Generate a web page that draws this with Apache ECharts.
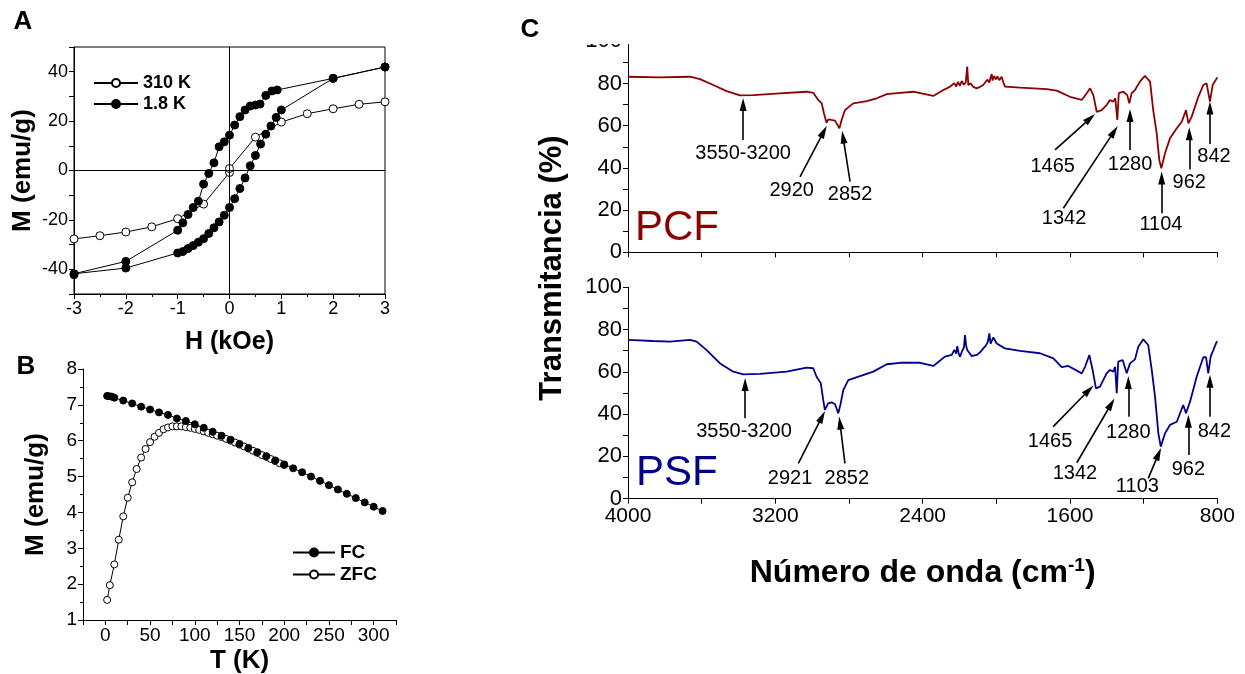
<!DOCTYPE html>
<html><head><meta charset="utf-8">
<script src="https://cdn.jsdelivr.net/npm/echarts@6/dist/echarts.min.js"></script>
<style>html,body{margin:0;padding:0;background:#fff}#c{width:1245px;height:674px}</style>
</head><body><div id="c"></div><script>
const F = "'Liberation Sans', Arial, Helvetica, sans-serif";

// ---- Panel A: hysteresis loops (H in kOe, M in emu/g)
const loop310K = [[-3,-27.7],[-2.5,-26.4],[-2,-24.9],[-1.5,-22.8],[-1,-19.5],[-0.5,-13.6],[0,-0.8],[0,0.8],[0.5,13.5],[1,19.6],[1.5,23],[2,25],[2.5,26.8],[3,27.8]];
const loop1p8K = [[3,41.9],[2,37.3],[0.92,32.6],[0.82,32.2],[0.7,30.4],[0.59,26.9],[0.5,26.5],[0.4,26.1],[0.3,24.5],[0.2,21.8],[0.1,18.4],[0,14.3],[-0.1,11.6],[-0.2,9.6],[-0.3,3.1],[-0.4,-1.2],[-0.5,-5.5],[-0.6,-12.4],[-0.7,-15],[-0.8,-17.8],[-0.9,-21.2],[-1,-24.2],[-2,-36.8],[-3,-41.8],
  [-3,-42.2],[-2,-39.5],[-1,-33.4],[-0.9,-32.8],[-0.8,-31.6],[-0.7,-30.4],[-0.6,-29],[-0.5,-27.6],[-0.4,-25.5],[-0.3,-23.2],[-0.2,-20.8],[-0.1,-18.1],[0,-15],[0.1,-11.4],[0.2,-7.3],[0.3,-3],[0.4,1.9],[0.5,6.1],[0.6,10.7],[0.7,14.7],[0.8,18],[0.9,21.5],[1,24.5],[2,37.3],[3,41.9]];

// ---- Panel B: FC / ZFC
const fcT = [2,4,7,10,20,30,40,50,60,70,80,90,100,110,120,130,140,150,160,170,180,190,200,210,220,230,240,250,260,270,280,290,300,310];
const fcM = [7.25,7.24,7.23,7.20,7.12,7.04,6.95,6.87,6.79,6.72,6.62,6.55,6.46,6.36,6.25,6.14,6.03,5.91,5.80,5.68,5.57,5.45,5.34,5.23,5.12,5.00,4.88,4.76,4.64,4.52,4.40,4.28,4.16,4.04];
const zfcT = [2,5,10,15,20,25,30,35,40,45,50,55,60,65,70,75,80,85,90,95,100,105,110,115,120,125,130,135,140,145,150,155,160,165,170,175,180,185,190,195,200];
const zfcM = [1.56,1.97,2.55,3.24,3.89,4.41,4.84,5.21,5.53,5.77,5.96,6.11,6.22,6.32,6.37,6.40,6.40,6.40,6.38,6.36,6.33,6.30,6.26,6.22,6.18,6.14,6.10,6.05,6.00,5.95,5.89,5.84,5.78,5.72,5.66,5.60,5.55,5.49,5.43,5.37,5.32];

// ---- Panel C: FTIR spectra [wavenumber, transmittance %]
const pcf = [[4000,83.2],[3826,82.9],[3663,83.2],[3609,82.1],[3537,79.3],[3464,76.4],[3392,74.4],[3320,74.5],[3175,75.3],[3030,76.1],[2994,75.6],[2967,72.2],[2948,70.6],[2936,65.9],[2922,61.4],[2912,63],[2903,63.5],[2876,62.4],[2852,58.8],[2840,62.7],[2822,67.4],[2777,70.6],[2704,71.7],[2649,73],[2595,75],[2523,75.6],[2451,76.1],[2342,74.1],[2288,76.9],[2269,77.7],[2250,78.6],[2240,77.8],[2228,80.2],[2218,78.6],[2208,80.8],[2198,78.9],[2188,81.2],[2176,79.4],[2166,80.6],[2158,88],[2152,79.2],[2140,80.1],[2125,78.4],[2106,77.7],[2085,78.6],[2071,79.3],[2060,80.6],[2048,81.8],[2038,80.5],[2030,83.2],[2025,84.5],[2020,81.4],[2012,83.6],[2003,81.9],[1994,83.4],[1984,81.6],[1971,83.2],[1962,80.6],[1953,78.5],[1910,78.3],[1871,78],[1726,77.3],[1672,76.6],[1600,73.7],[1536,72.2],[1509,75.4],[1491,77.7],[1473,74.5],[1455,66.6],[1428,67.4],[1401,69.8],[1383,72.2],[1365,71.4],[1354,73],[1343,62.7],[1335,75.4],[1310,76.1],[1289,74.5],[1278,70.6],[1265,75.4],[1247,76.9],[1238,76.6],[1220,80.9],[1193,83.6],[1165,80.9],[1148,67.4],[1129,56.4],[1115,43.7],[1104,39.8],[1084,46.9],[1057,54],[1020,58.8],[993,61.9],[970,67.4],[957,61.1],[939,64.3],[903,73.7],[876,79.3],[858,80.1],[840,71.4],[825,79.3],[800,82.9]];
const psf = [[4000,75.1],[3866,74.6],[3772,74.3],[3663,75.1],[3627,74.3],[3573,70.3],[3500,64],[3428,60.1],[3374,58.8],[3283,59],[3139,60.1],[3030,62],[2994,61.7],[2976,57.7],[2953,54.6],[2940,46.7],[2931,42],[2913,45.1],[2894,45.6],[2876,44.7],[2858,40.4],[2845,45.1],[2831,51.4],[2804,56.1],[2740,58],[2668,60.1],[2595,63.6],[2523,64.3],[2414,64.3],[2342,62.8],[2279,67.2],[2242,68],[2228,70.4],[2218,68.6],[2212,72.2],[2204,68.5],[2197,67.2],[2185,70],[2176,71.5],[2170,77.4],[2164,72.5],[2158,70.3],[2134,67.5],[2106,68],[2085,69.5],[2071,71.1],[2058,72.3],[2046,74.2],[2038,78.2],[2031,73.4],[2025,72.7],[2016,76.3],[2007,75.9],[1998,73.4],[1989,72.7],[1953,71.1],[1871,69.9],[1763,68.8],[1690,66.4],[1645,62.2],[1609,62.8],[1536,59.3],[1518,62.4],[1495,68],[1477,60.9],[1459,52.2],[1437,53],[1401,59.3],[1383,60.9],[1365,60.1],[1355,62.4],[1346,49.9],[1338,64.8],[1314,65.6],[1292,59.3],[1274,64],[1247,65.9],[1229,71.9],[1202,75.4],[1175,72.7],[1156,60.9],[1138,48.2],[1120,30.9],[1107,24.6],[1084,30.9],[1057,34.9],[1020,36.4],[985,44.3],[970,40.4],[948,45.9],[912,57.7],[876,66.9],[861,66.9],[849,59.3],[836,67.2],[807,73.5],[800,74.5]];

// band annotations: label, arrow tail, arrow head, label anchor (data coords)
const pcfNotes = [
  ['3550-3200',[3375,53.2],[3375,70],[3375,46.9]],
  ['2920',[3066,35.8],[2937,57.2],[3111,29.2]],
  ['2852',[2794,33.5],[2832,54.6],[2794,27.6]],
  ['1465',[1681,48.5],[1490,63.5],[1694,40.6]],
  ['1342',[1636,20.9],[1360,57.3],[1632,16.1]],
  ['1280',[1274,48.5],[1274,64.8],[1274,41.8]],
  ['1104',[1102,18.5],[1102,35.2],[1106,13.4]],
  ['962',[952,39.3],[952,56.2],[952,33.2]],
  ['842',[840,51.3],[840,68.4],[818,45.3]]
];
const psfNotes = [
  ['3550-3200',[3364,38],[3364,54],[3370,31.7]],
  ['2921',[3075,16.7],[2946,38.8],[3120,9.6]],
  ['2852',[2822,16.7],[2849,35.8],[2812,9.6]],
  ['1465',[1691,34.1],[1497,51.4],[1708,27]],
  ['1342',[1563,17],[1376,44.8],[1573,11.7]],
  ['1280',[1283,38.8],[1283,55],[1283,31.2]],
  ['1103',[1175,9.6],[1119,21.2],[1234,5.7]],
  ['962',[957,20.7],[957,36.6],[957,13.9]],
  ['842',[840,38.8],[840,55.5],[816,31.7]]
];

function merge(a, b){
  const o = Array.isArray(a) ? a.slice() : Object.assign({}, a);
  for (const k in b){
    if (b[k] && typeof b[k] === 'object' && !Array.isArray(b[k]) && a[k] && typeof a[k] === 'object') o[k] = merge(a[k], b[k]);
    else o[k] = b[k];
  }
  return o;
}
const axBase = {
  type:'value',
  axisLine:{show:true, onZero:false, lineStyle:{color:'#000', width:1}},
  axisTick:{show:true, inside:false, length:5, lineStyle:{color:'#000', width:1}},
  minorTick:{show:false},
  splitLine:{show:false},
  minorSplitLine:{show:false},
  axisLabel:{color:'#000', fontFamily:F, fontSize:18, margin:6},
  nameLocation:'middle',
  nameTextStyle:{color:'#000', fontFamily:F, fontWeight:'bold', fontSize:26}
};
const ax = o => merge(axBase, o);

const pairs = (xs, ys) => xs.map((x,i) => [x, ys[i]]);

function noteSeries(name, notes, xi){
  return {
    name: name, type:'scatter', xAxisIndex:xi, yAxisIndex:xi, silent:true,
    symbol:'circle', symbolSize:1, itemStyle:{color:'rgba(0,0,0,0)'},
    data: notes.map(n => ({name:n[0], value:n[3]})),
    label:{show:true, position:'inside', formatter:'{b}', color:'#000', opacity:1,
           textBorderWidth:0, textBorderColor:'transparent', fontFamily:F, fontSize:20},
    labelLayout:{hideOverlap:false},
    markLine:{
      silent:true, animation:false, symbol:['none','triangle'], symbolSize:[7,13],
      lineStyle:{color:'#000', width:1.6, type:'solid'}, label:{show:false}, emphasis:{disabled:true},
      data: notes.map(n => [{coord:n[1]},{coord:n[2]}])
    }
  };
}

const option = {
  animation:false,
  textStyle:{fontFamily:F},
  grid:[
    {left:74, top:47, width:311, height:247, show:true, borderColor:'#000', borderWidth:1, backgroundColor:'transparent', outerBoundsMode:'none'},
    {left:83, top:369, width:313, height:251, outerBoundsMode:'none'},
    {left:628, top:41.3, width:589.3, height:211, outerBoundsMode:'none'},
    {left:628, top:287.3, width:589.3, height:211.4, outerBoundsMode:'none'}
  ],
  xAxis:[
    ax({gridIndex:0, min:-3, max:3, interval:1, minorTick:{show:true, splitNumber:2, length:3, lineStyle:{color:'#000'}},
        name:'H (kOe)', nameGap:36, nameTextStyle:{fontSize:25}}),
    ax({gridIndex:1, min:-25, max:325, interval:25,
        axisLabel:{fontSize:19, formatter:v => (v % 50 === 0 && v >= 0 && v <= 300) ? String(v) : ''},
        name:'T (K)', nameGap:28}),
    ax({gridIndex:2, min:800, max:4000, inverse:true, interval:400, axisLabel:{show:false}}),
    ax({gridIndex:3, min:800, max:4000, inverse:true, interval:400,
        axisLabel:{fontSize:21, margin:7, formatter:v => (v % 800 === 0) ? String(v) : ''},
        name:'Número de onda (cm{sup|-1})', nameGap:58,
        nameTextStyle:{fontSize:32, rich:{sup:{fontSize:19, fontWeight:'bold', fontFamily:F, verticalAlign:'top', color:'#000'}}}})
  ],
  yAxis:[
    ax({gridIndex:0, min:-50, max:50, interval:10,
        axisLabel:{formatter:v => (v % 20 === 0) ? String(v) : ''},
        name:'M (emu/g)', nameGap:38}),
    ax({gridIndex:1, min:1, max:8, interval:1, minorTick:{show:true, splitNumber:2, length:3, lineStyle:{color:'#000'}},
        axisLabel:{fontSize:19}, name:'M (emu/g)', nameGap:34}),
    ax({gridIndex:2, min:0, max:100, interval:10, axisLabel:{fontSize:22, formatter:v => (v % 20 === 0) ? String(v) : ''}}),
    ax({gridIndex:3, min:0, max:100, interval:10, axisLabel:{fontSize:22, formatter:v => (v % 20 === 0) ? String(v) : ''}})
  ],
  legend:[
    {left:88, top:69, orient:'vertical', itemWidth:44, itemHeight:10, itemGap:3, data:['310 K','1.8 K'],
     textStyle:{fontWeight:'bold', fontSize:18, color:'#000', fontFamily:F}},
    {left:287, top:538, orient:'vertical', itemWidth:42, itemHeight:10, itemGap:3, data:['FC','ZFC'],
     textStyle:{fontWeight:'bold', fontSize:19, color:'#000', fontFamily:F}}
  ],
  series:[
    {name:'310 K', type:'line', xAxisIndex:0, yAxisIndex:0, data:loop310K, symbol:'circle', symbolSize:8,
     itemStyle:{color:'#fff', borderColor:'#000', borderWidth:1}, lineStyle:{color:'#000', width:1},
     markLine:{silent:true, symbol:'none', label:{show:false}, lineStyle:{color:'#000', width:1, type:'solid'}, emphasis:{disabled:true},
               data:[{xAxis:0},{yAxis:0}]}},
    {name:'1.8 K', type:'line', xAxisIndex:0, yAxisIndex:0, data:loop1p8K, symbol:'circle', symbolSize:8,
     itemStyle:{color:'#000', borderColor:'#000', borderWidth:1}, lineStyle:{color:'#000', width:1}},
    {name:'ZFC', type:'line', xAxisIndex:1, yAxisIndex:1, data:pairs(zfcT, zfcM), symbol:'circle', symbolSize:7,
     itemStyle:{color:'#fff', borderColor:'#000', borderWidth:1}, lineStyle:{color:'#000', width:1}},
    {name:'FC', type:'line', xAxisIndex:1, yAxisIndex:1, data:pairs(fcT, fcM), symbol:'circle', symbolSize:7,
     itemStyle:{color:'#000', borderColor:'#000', borderWidth:1}, lineStyle:{color:'#000', width:1}},
    {name:'PCF', type:'line', xAxisIndex:2, yAxisIndex:2, data:pcf, symbol:'none', lineStyle:{color:'#8b0000', width:1.8}},
    {name:'PSF', type:'line', xAxisIndex:3, yAxisIndex:3, data:psf, symbol:'none', lineStyle:{color:'#00008b', width:1.8}},
    noteSeries('pcfNotes', pcfNotes, 2),
    noteSeries('psfNotes', psfNotes, 3)
  ],
  graphic:[
    {type:'rect', z:100, shape:{x:560, y:0, width:75, height:44}, style:{fill:'#fff'}},
    {type:'text', z:101, x:23, y:22, style:{text:'A', fontFamily:F, fontWeight:'bold', fontSize:26, fill:'#000', align:'center', verticalAlign:'middle'}},
    {type:'text', z:101, x:26, y:367, style:{text:'B', fontFamily:F, fontWeight:'bold', fontSize:26, fill:'#000', align:'center', verticalAlign:'middle'}},
    {type:'text', z:101, x:530, y:30, style:{text:'C', fontFamily:F, fontWeight:'bold', fontSize:26, fill:'#000', align:'center', verticalAlign:'middle'}},
    {type:'text', z:101, x:552, y:268, rotation:Math.PI/2, style:{text:'Transmitancia (%)', fontFamily:F, fontWeight:'bold', fontSize:31, fill:'#000', align:'center', verticalAlign:'middle'}},
    {type:'text', z:101, x:635, y:228, style:{text:'PCF', fontFamily:F, fontSize:42, fill:'#8b0000', align:'left', verticalAlign:'middle'}},
    {type:'text', z:101, x:636, y:473, style:{text:'PSF', fontFamily:F, fontSize:42, fill:'#00008b', align:'left', verticalAlign:'middle'}}
  ]
};
const chart = echarts.init(document.getElementById('c'));
chart.setOption(option);
</script></body></html>
